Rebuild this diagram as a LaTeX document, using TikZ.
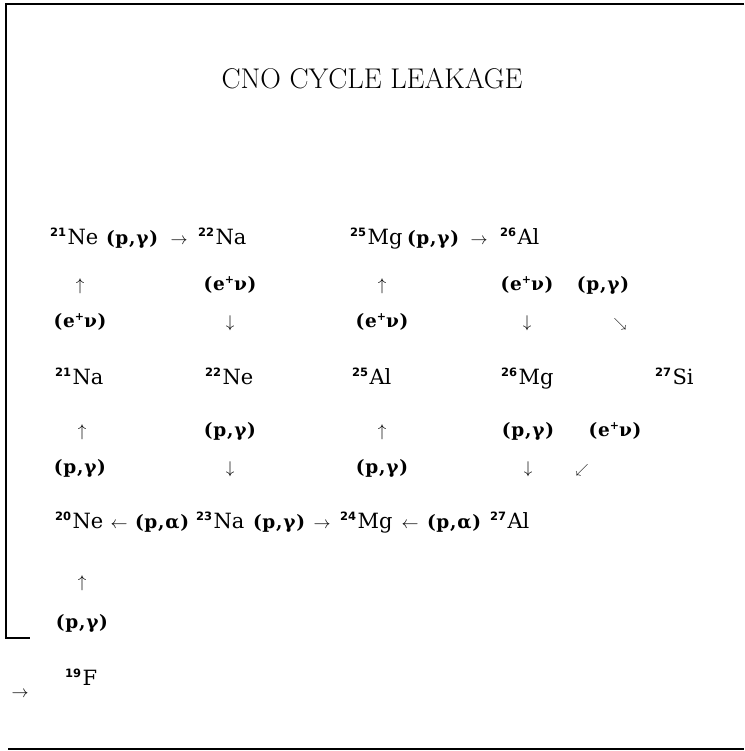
\documentclass[tikz,border=0pt]{standalone}
\usepackage{fix-cm}
\usepackage{fontspec}
\newfontfamily\elfont{DejaVu Serif}
\newfontfamily\lbfont[LetterSpace=4]{DejaVu Serif}
\newfontfamily\numfont{DejaVu Sans}
\newcommand\iso[2]{{\numfont\bfseries\fontsize{11.5}{11.5}\selectfont\raisebox{0.66em}{#1}}\kern1.5pt #2}
\newcommand\epnu{(e\raisebox{0.36em}{\fontsize{11}{11}\selectfont +}ν)}
\begin{document}
\begin{tikzpicture}[x=1pt,y=-1pt,
  every node/.style={inner sep=0pt,outer sep=0pt},
  el/.style={anchor=base west,font=\elfont\fontsize{21}{21}\selectfont},
  lbl/.style={anchor=base,font=\lbfont\bfseries\fontsize{18.5}{18.5}\selectfont},
  ar/.style={anchor=base,font=\fontsize{17}{17}\selectfont},
  dg/.style={anchor=base,font=\fontsize{13}{13}\selectfont},
  frame/.style={line width=1.5pt}]
\useasboundingbox (0,0) rectangle (744,751);
% frame
\coordinate (ftr) at (744,4);
\coordinate (ftl) at (6,4);
\coordinate (fbl) at (6,638);
\coordinate (fbe) at (30,638);
\coordinate (bl) at (8,749);
\coordinate (br) at (744,749);
\draw[frame] (ftr) -- (ftl) -- (fbl) -- (fbe);
\draw[frame] (bl) -- (br);
% title
\node[anchor=base,font=\fontsize{28.5}{28.5}\selectfont] (title) at (372,89) {CNO CYCLE LEAKAGE};
% row 1
\node[el] (ne21) at (50,244) {\iso{21}{Ne}};
\node[lbl,anchor=base west] (r1a) at (106,244) {(p,γ)};
\node[ar] (a1) at (179,244) {$\rightarrow$};
\node[el] (na22) at (198,244) {\iso{22}{Na}};
\node[el] (mg25) at (350,244) {\iso{25}{Mg}};
\node[lbl,anchor=base west] (r1b) at (407,244) {(p,γ)};
\node[ar] (a2) at (479,244) {$\rightarrow$};
\node[el] (al26) at (500,244) {\iso{26}{Al}};
% row 2
\node[ar] (u1) at (80,290) {$\uparrow$};
\node[lbl] (l21) at (230,290) {\epnu};
\node[ar] (u2) at (382,290) {$\uparrow$};
\node[lbl] (l22) at (527,290) {\epnu};
\node[lbl] (l23) at (603,290) {(p,γ)};
% row 3
\node[lbl] (l31) at (80,327) {\epnu};
\node[ar] (d1) at (230,327) {$\downarrow$};
\node[lbl] (l32) at (382,327) {\epnu};
\node[ar] (d2) at (527,327) {$\downarrow$};
\node[dg] (se) at (620,327) {$\searrow$};
% row 4
\node[el] (na21) at (55,384) {\iso{21}{Na}};
\node[el] (ne22) at (205,384) {\iso{22}{Ne}};
\node[el] (al25) at (352,384) {\iso{25}{Al}};
\node[el] (mg26) at (501,384) {\iso{26}{Mg}};
\node[el] (si27) at (655,384) {\iso{27}{Si}};
% row 5
\node[ar] (u3) at (82,436) {$\uparrow$};
\node[lbl] (l51) at (230,436) {(p,γ)};
\node[ar] (u4) at (382,436) {$\uparrow$};
\node[lbl] (l52) at (528,436) {(p,γ)};
\node[lbl] (l53) at (615,436) {\epnu};
% row 6
\node[lbl] (l61) at (80,473) {(p,γ)};
\node[ar] (d3) at (230,473) {$\downarrow$};
\node[lbl] (l62) at (382,473) {(p,γ)};
\node[ar] (d4) at (528,473) {$\downarrow$};
\node[dg] (sw) at (582,473) {$\swarrow$};
% row 7
\node[el] (ne20) at (55,528) {\iso{20}{Ne}};
\node[ar] (b1) at (119,528) {$\leftarrow$};
\node[lbl,anchor=base west] (l71) at (135,528) {(p,α)};
\node[el] (na23) at (196,528) {\iso{23}{Na}};
\node[lbl,anchor=base west] (l72) at (253,528) {(p,γ)};
\node[ar] (a3) at (322,528) {$\rightarrow$};
\node[el] (mg24) at (340,528) {\iso{24}{Mg}};
\node[ar] (b2) at (410,528) {$\leftarrow$};
\node[lbl,anchor=base west] (l73) at (427,528) {(p,α)};
\node[el] (al27) at (490,528) {\iso{27}{Al}};
% row 8
\node[ar] (u5) at (82,587) {$\uparrow$};
\node[lbl] (l81) at (82,628) {(p,γ)};
\node[el] (f19) at (65,685) {\iso{19}{F}};
\node[ar] (a4) at (20,697) {$\rightarrow$};
\end{tikzpicture}
\end{document}
